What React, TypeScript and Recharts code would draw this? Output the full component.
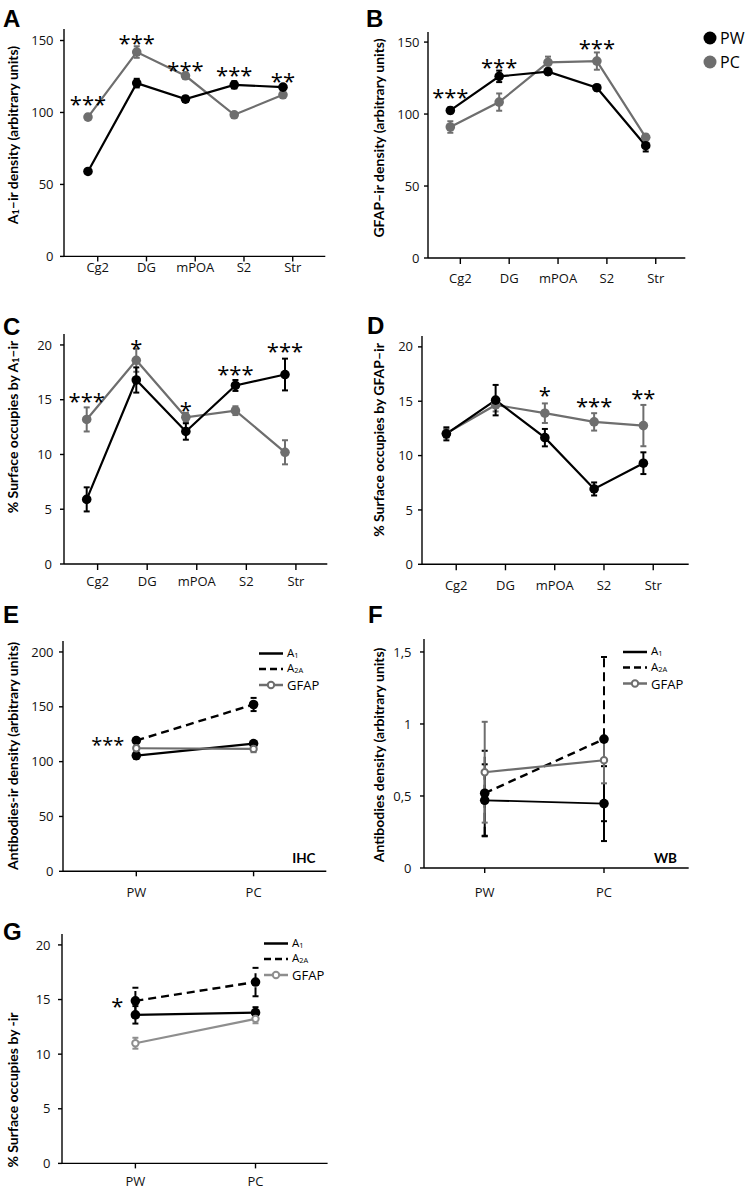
import React from 'react';
import { LineChart, Line, XAxis, YAxis, ErrorBar, LabelList } from 'recharts';

const FONT = 'Lato, "Open Sans", sans-serif';
const TICK_FONT = '"Open Sans", Lato, sans-serif';
const STAR_FONT = '"Open Sans", sans-serif';
const GRAY = '#6e6e6e';
const LIGHT_GRAY = '#8e8e8e';

// ---------- categories ----------
const regions = ['Cg2', 'DG', 'mPOA', 'S2', 'Str'];
const groups = ['PW', 'PC'];

// ---------- Panel A: A1-ir density ----------
const aPW = [59, 120.4, 109.3, 119.2, 117.6];
const aPWErr = [1.5, 3, 2, 2.5, 1.5];
const aPC = [96.8, 142, 125.5, 98.4, 112.3];
const aPCErr = [2, 4, 1.5, 1.5, 1.5];
const aStars = ['***', '***', '***', '***', '**'];
const aStarY = [109.5, 151.9, 133.1, 129, 125.5];

// ---------- Panel B: GFAP-ir density ----------
const bPW = [102.5, 126.2, 129.4, 118.3, 78];
const bPWErr = [2, 4, 2, 2, 4];
const bPC = [91, 108.3, 135.9, 136.8, 83.8];
const bPCErr = [4, 6, 4, 6, 2];
const bStars = ['***', '***', '', '***', ''];
const bStarY = [115.3, 136.1, null, 149.3, null];

// ---------- Panel C: % surface A1-ir ----------
const cPW = [5.9, 16.8, 12.1, 16.3, 17.3];
const cPWErr = [1.1, 1.15, 0.75, 0.5, 1.45];
const cPC = [13.2, 18.6, 13.4, 14.0, 10.2];
const cPCErr = [1.1, 1.05, 0.4, 0.4, 1.1];
const cStars = ['***', '*', '*', '***', '***'];
const cStarY = [15.3, 20.2, 14.5, 17.8, 19.9];

// ---------- Panel D: % surface GFAP-ir ----------
const dPW = [12.0, 15.1, 11.65, 6.93, 9.3];
const dPWErr = [0.6, 1.4, 0.8, 0.6, 1.0];
const dPC = [12.05, 14.66, 13.9, 13.1, 12.76];
const dPCErr = [0.4, 0.6, 0.9, 0.8, 1.9];
const dStars = ['', '', '*', '***', '**'];
const dStarY = [null, null, 16.04, 15.0, 15.7];

// ---------- Panel E: IHC ----------
const eA1 = [105.5, 116.5];
const eA1Err = [3, 2];
const eA2A = [119.2, 152.1];
const eA2AErr = [2, 6];
const eGFAP = [112.2, 111.6];
const eGFAPErr = [2, 3];
const eStars = ['***', ''];

// ---------- Panel F: WB ----------
const fA1 = [0.47, 0.447];
const fA1Err = [0.25, 0.26];
const fA2A = [0.519, 0.895];
const fA2AErr = [0.295, 0.57];
const fGFAP = [0.665, 0.748];
const fGFAPErr = [0.35, 0.16];
const fStars = ['', ''];

// ---------- Panel G: % surface ----------
const gA1 = [13.6, 13.8];
const gA1Err = [0.8, 0.5];
const gA2A = [14.88, 16.6];
const gA2AErr = [1.2, 1.3];
const gGFAP = [11.0, 13.23];
const gGFAPErr = [0.5, 0.4];
const gStars = ['*', ''];

const regionRows = (pw: number[], pwE: number[], pc: number[], pcE: number[], stars: string[], starY: (number | null)[]) =>
  regions.map((r, i) => ({ x: i + 1, name: r, pw: pw[i], pwErr: pwE[i], pc: pc[i], pcErr: pcE[i], star: stars[i], starY: starY[i] }));

const groupRows = (a1: number[], a1E: number[], a2: number[], a2E: number[], gf: number[], gfE: number[], stars: string[]) =>
  groups.map((g, i) => ({ x: i + 1, name: g, a1: a1[i], a1Err: a1E[i], a2a: a2[i], a2aErr: a2E[i], gfap: gf[i], gfapErr: gfE[i], star: stars[i] }));

const rowsA = regionRows(aPW, aPWErr, aPC, aPCErr, aStars, aStarY);
const rowsB = regionRows(bPW, bPWErr, bPC, bPCErr, bStars, bStarY);
const rowsC = regionRows(cPW, cPWErr, cPC, cPCErr, cStars, cStarY);
const rowsD = regionRows(dPW, dPWErr, dPC, dPCErr, dStars, dStarY);
const rowsE = groupRows(eA1, eA1Err, eA2A, eA2AErr, eGFAP, eGFAPErr, eStars);
const rowsF = groupRows(fA1, fA1Err, fA2A, fA2AErr, fGFAP, fGFAPErr, fStars);
const rowsG = groupRows(gA1, gA1Err, gA2A, gA2AErr, gGFAP, gGFAPErr, gStars);

type Box = { left: number; top: number; right: number; bottom: number };
type SeriesCfg = { key: string; err: string; color: string; width: number; dash?: string; errDash?: string; open?: boolean; starLeft?: boolean };

const regionSeries: SeriesCfg[] = [
  { key: 'pc', err: 'pcErr', color: GRAY, width: 2.2 },
  { key: 'pw', err: 'pwErr', color: '#000', width: 2.2 },
];
const groupSeries = (gfapColor: string, a1w: number): SeriesCfg[] => [
  { key: 'a1', err: 'a1Err', color: '#000', width: a1w },
  { key: 'a2a', err: 'a2aErr', color: '#000', width: 2.4, dash: '8 5', errDash: '9 5', starLeft: true },
  { key: 'gfap', err: 'gfapErr', color: gfapColor, width: 2.2, open: true },
];

const AXIS = { stroke: '#000', strokeWidth: 1.4 };
const TICK = { fontSize: 13, fill: '#111', fontFamily: TICK_FONT };
const PAD = { l: 62, t: 30, r: 64, b: 36 };

const px = (props: any) => (props.x ?? props.viewBox?.x);
const py = (props: any) => (props.y ?? props.viewBox?.y);

const starAbove = (fs: number) => (props: any) => {
  const x = px(props), y = py(props);
  if (!props.value || y == null || x == null) return null;
  return (
    <text x={x} y={y} dy={fs * 0.58} textAnchor="middle" fontFamily={STAR_FONT} fontSize={fs} fill="#000">
      {props.value}
    </text>
  );
};
const starLeft = (fs: number) => (props: any) => {
  const x = px(props), y = py(props);
  if (!props.value || y == null || x == null) return null;
  return (
    <text x={x - 12} y={y} dy={fs * 0.58} textAnchor="end" fontFamily={STAR_FONT} fontSize={fs} fill="#000">
      {props.value}
    </text>
  );
};

type PanelProps = {
  box: Box;
  data: any[];
  series: SeriesCfg[];
  yDomain: [number, number];
  yTicks: number[];
  yFmt?: (v: number) => string;
  xDomain: [number, number];
  labels: string[];
  tickShift: number;
  xTickSize: number;
  xTickMargin: number;
  yTickMargin: number;
  starsAbove?: boolean;
  starSize: number;
};

function Panel(p: PanelProps) {
  const { box } = p;
  const w = box.right - box.left;
  const h = box.bottom - box.top;
  const W = w + PAD.l + PAD.r;
  const H = h + PAD.t + PAD.b;
  const xTicks = p.labels.map((_, i) => i + 1 + p.tickShift);
  const xFmt = (v: number) => p.labels[Math.round(v - p.tickShift) - 1] ?? '';
  return (
    <div style={{ position: 'absolute', left: box.left - PAD.l, top: box.top - PAD.t, width: W, height: H }}>
      <LineChart width={W} height={H} data={p.data} margin={{ top: PAD.t, right: PAD.r, bottom: 0, left: 0 }}>
        <XAxis
          dataKey="x" type="number" domain={p.xDomain} ticks={xTicks} tickFormatter={xFmt}
          allowDataOverflow interval={0} height={PAD.b} tickSize={p.xTickSize} tickMargin={p.xTickMargin}
          axisLine={AXIS} tickLine={AXIS} tick={TICK}
        />
        <XAxis xAxisId="top" orientation="top" dataKey="x" type="number" domain={p.xDomain} allowDataOverflow
          height={0} tick={false} tickLine={false} axisLine={AXIS} />
        <YAxis
          type="number" domain={p.yDomain} ticks={p.yTicks} tickFormatter={p.yFmt} allowDataOverflow interval={0}
          width={PAD.l} tickSize={4} tickMargin={p.yTickMargin} axisLine={AXIS} tickLine={AXIS} tick={TICK}
        />
        <YAxis yAxisId="right" orientation="right" type="number" domain={p.yDomain} allowDataOverflow
          width={0} tick={false} tickLine={false} axisLine={AXIS} />
        {p.series.map((s) => (
          <Line
            key={s.key}
            dataKey={s.key}
            stroke={s.color}
            strokeWidth={s.width}
            strokeDasharray={s.dash}
            dot={s.open ? { r: 3.2, fill: '#fff', stroke: s.color, strokeWidth: 2, strokeDasharray: '0' } : { r: 4.8, fill: s.color, stroke: s.color, strokeWidth: 0 }}
            activeDot={false}
            isAnimationActive={false}
          >
            <ErrorBar dataKey={s.err} direction="y" width={3} stroke={s.color} strokeWidth={2} strokeDasharray={s.errDash} />
            {s.starLeft ? <LabelList dataKey="star" content={starLeft(p.starSize)} /> : null}
          </Line>
        ))}
        {p.starsAbove ? (
          <Line dataKey="starY" stroke="none" dot={false} activeDot={false} isAnimationActive={false}>
            <LabelList dataKey="star" content={starAbove(p.starSize)} />
          </Line>
        ) : null}
      </LineChart>
    </div>
  );
}

function YTitle({ x, y, children }: { x: number; y: number; children: React.ReactNode }) {
  return (
    <text x={x} y={y} transform={`rotate(-90 ${x} ${y})`} textAnchor="middle" dominantBaseline="central"
      fontFamily={FONT} fontWeight="bold" fontSize={14} fill="#000">
      {children}
    </text>
  );
}

function Letter({ x, y, t }: { x: number; y: number; t: string }) {
  return (
    <text x={x} y={y} fontFamily='"Liberation Sans", Arial, sans-serif' fontWeight="bold" fontSize={24} fill="#000">{t}</text>
  );
}

function SeriesLegend({ x, y, textX, gfapColor }: { x: number; y: number; textX: number; gfapColor: string }) {
  const rows = [-0.5, 15, 31];
  return (
    <g fontFamily={TICK_FONT} fontSize={11.5} fill="#000">
      <line x1={x} x2={x + 24} y1={y + rows[0]} y2={y + rows[0]} stroke="#000" strokeWidth={2.5} />
      <text x={textX} y={y + rows[0] - 1.5} dominantBaseline="central">A<tspan fontSize={7.5} dy={2.5}>1</tspan></text>
      <line x1={x} x2={x + 24} y1={y + rows[1]} y2={y + rows[1]} stroke="#000" strokeWidth={2.5} strokeDasharray="7 4" />
      <text x={textX} y={y + rows[1] - 1.5} dominantBaseline="central">A<tspan fontSize={7.5} dy={2.5}>2A</tspan></text>
      <line x1={x} x2={x + 24} y1={y + rows[2]} y2={y + rows[2]} stroke={gfapColor} strokeWidth={2.5} />
      <circle cx={x + 12} cy={y + rows[2]} r={3.2} fill="#fff" stroke={gfapColor} strokeWidth={2} />
      <text x={textX} y={y + rows[2]} dominantBaseline="central" fontSize={13}>GFAP</text>
    </g>
  );
}

function Overlay() {
  return (
    <svg width={750} height={1190} style={{ position: 'absolute', left: 0, top: 0, pointerEvents: 'none' }}>
      <Letter x={3} y={27} t="A" />
      <Letter x={366} y={27} t="B" />
      <Letter x={3} y={335} t="C" />
      <Letter x={367} y={334} t="D" />
      <Letter x={3} y={623} t="E" />
      <Letter x={368} y={623} t="F" />
      <Letter x={3} y={940} t="G" />

      <YTitle x={12} y={135}>A<tspan fontSize={9} dy={3}>1</tspan><tspan dy={-3}>–ir density (arbitrary units)</tspan></YTitle>
      <YTitle x={378} y={138}>GFAP–ir density (arbitrary units)</YTitle>
      <YTitle x={12} y={427}>% Surface occupies by A<tspan fontSize={9} dy={3}>1</tspan><tspan dy={-3}>–ir</tspan></YTitle>
      <YTitle x={378} y={440}>% Surface occupies by GFAP–ir</YTitle>
      <YTitle x={12} y={756}>Antibodies-ir density (arbitrary units)</YTitle>
      <YTitle x={378} y={755}>Antibodies density (arbitrary units)</YTitle>
      <YTitle x={12} y={1090}>% Surface occupies by -ir</YTitle>

      <g fontFamily={TICK_FONT} fontSize={16} fill="#000">
        <circle cx={710} cy={38} r={6.5} fill="#000" />
        <text x={720} y={38} dominantBaseline="central">{groups[0]}</text>
        <circle cx={710} cy={62} r={6.5} fill={GRAY} />
        <text x={720} y={62} dominantBaseline="central">{groups[1]}</text>
      </g>

      <SeriesLegend x={259} y={654} textX={287} gfapColor={GRAY} />
      <SeriesLegend x={623} y={652.5} textX={651} gfapColor={GRAY} />
      <SeriesLegend x={264} y={944} textX={292} gfapColor={LIGHT_GRAY} />

      <text x={315.5} y={863} textAnchor="end" fontFamily={FONT} fontWeight="bold" fontSize={13.5} fill="#000">IHC</text>
      <text x={677} y={863} textAnchor="end" fontFamily={FONT} fontWeight="bold" fontSize={13.5} fill="#000">WB</text>
    </svg>
  );
}

export default function App() {
  return (
    <div style={{ position: 'absolute', left: 0, top: 0, width: 750, height: 1190, overflow: 'hidden', background: '#fff' }}>
      <Panel box={{ left: 64, top: 29.3, right: 325.3, bottom: 256.7 }} data={rowsA} series={regionSeries}
        yDomain={[0, 158]} yTicks={[0, 50, 100, 150]} xDomain={[0.508, 5.868]} labels={regions} tickShift={0.2}
        xTickSize={5} xTickMargin={1} yTickMargin={6.5} starsAbove starSize={22} />
      <Panel box={{ left: 427.7, top: 31.7, right: 685, bottom: 257.7 }} data={rowsB} series={regionSeries}
        yDomain={[0, 157]} yTicks={[0, 50, 100, 150]} xDomain={[0.543, 5.81]} labels={regions} tickShift={0.205}
        xTickSize={6} xTickMargin={10} yTickMargin={4.5} starsAbove starSize={22} />
      <Panel box={{ left: 64, top: 334.3, right: 327.3, bottom: 564.3 }} data={rowsC} series={regionSeries}
        yDomain={[0, 21]} yTicks={[0, 5, 10, 15, 20]} xDomain={[0.542, 5.853]} labels={regions} tickShift={0.22}
        xTickSize={6} xTickMargin={7} yTickMargin={8} starsAbove starSize={22} />
      <Panel box={{ left: 422.3, top: 336, right: 689, bottom: 564.3 }} data={rowsD} series={regionSeries}
        yDomain={[0, 21]} yTicks={[0, 5, 10, 15, 20]} xDomain={[0.505, 5.92]} labels={regions} tickShift={0.2}
        xTickSize={6} xTickMargin={10.3} yTickMargin={5} starsAbove starSize={22} />
      <Panel box={{ left: 62.7, top: 640.7, right: 326, bottom: 871 }} data={rowsE} series={groupSeries(GRAY, 2.2)}
        yDomain={[0, 210]} yTicks={[0, 50, 100, 150, 200]} xDomain={[0.375, 2.62]} labels={groups} tickShift={0}
        xTickSize={5} xTickMargin={11.6} yTickMargin={5.5} starSize={20} />
      <Panel box={{ left: 424.3, top: 639.3, right: 689, bottom: 868.3 }} data={rowsF} series={groupSeries(GRAY, 1.8)}
        yDomain={[0, 1.59]} yTicks={[0, 0.5, 1, 1.5]} yFmt={(v) => String(v).replace('.', ',')}
        xDomain={[0.491, 2.71]} labels={groups} tickShift={0}
        xTickSize={5} xTickMargin={14.3} yTickMargin={8.5} starSize={20} />
      <Panel box={{ left: 61.7, top: 934.3, right: 327.3, bottom: 1163.7 }} data={rowsG} series={groupSeries(LIGHT_GRAY, 2.2)}
        yDomain={[0, 21]} yTicks={[0, 5, 10, 15, 20]} xDomain={[0.389, 2.6]} labels={groups} tickShift={0}
        xTickSize={5} xTickMargin={8} yTickMargin={7.5} starSize={22} />
      <Overlay />
    </div>
  );
}
